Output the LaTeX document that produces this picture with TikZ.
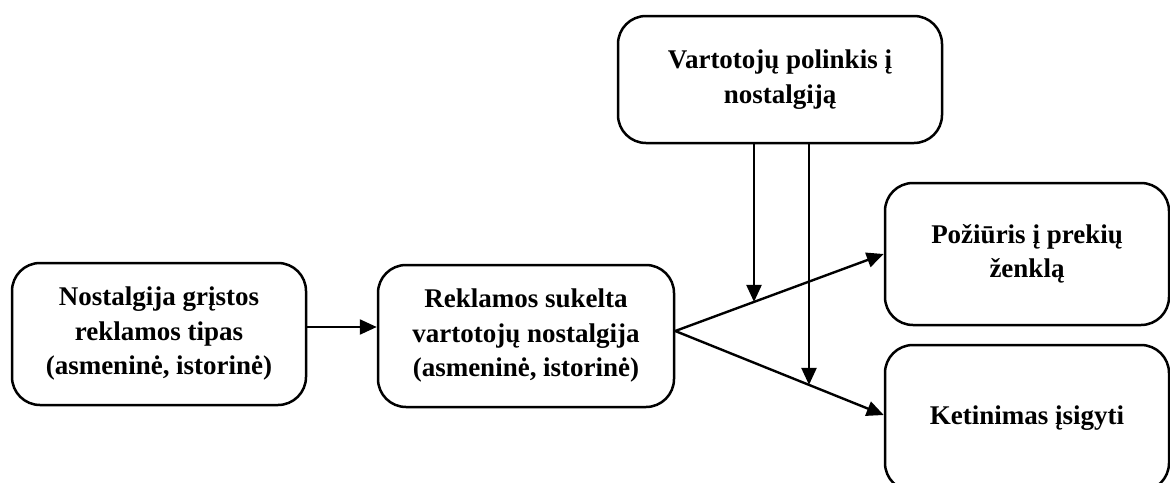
\documentclass[tikz,border=0pt]{standalone}
\usepackage{fontspec}
\setmainfont{Liberation Serif}
\usetikzlibrary{arrows.meta,intersections}
\tikzset{
  box/.style={draw, line width=2.5pt, rounded corners=28pt, inner sep=0pt,
    align=center, font=\fontsize{27}{34.5}\selectfont\bfseries},
  link/.style={line width=2.4pt, -{Triangle[length=17pt,width=15pt]}},
}
\begin{document}
\begin{tikzpicture}[x=1pt,y=-1pt]
  \useasboundingbox (0,0) rectangle (1170,482);
  \clip (0,0) rectangle (1170,482);

  % boxes
  \node[box, minimum width=294pt, minimum height=142pt] (type) at (159,334)
    {Nostalgija grįstos\\reklamos tipas\\(asmeninė, istorinė)};
  \node[box, minimum width=296pt, minimum height=142pt] (evoked) at (526,336)
    {Reklamos sukelta\\vartotojų nostalgija\\(asmeninė, istorinė)};
  \node[box, minimum width=324pt, minimum height=127pt] (prone) at (780,79.5)
    {Vartotojų polinkis į\\nostalgiją};
  \node[box, minimum width=284pt, minimum height=142pt] (attitude) at (1027,254)
    {Požiūris į prekių\\ženklą};
  \node[box, minimum width=284pt, minimum height=146pt] (intent) at (1027,418)
    {Ketinimas įsigyti};

  % connection points
  \coordinate (a1) at (type.east |- 0,327);
  \coordinate (a2) at (evoked.west |- 0,327);
  \coordinate (fork) at (evoked.east |- 0,331);
  \coordinate (t1) at (attitude.west |- 0,254);
  \coordinate (t2) at (intent.west |- 0,415);
  \coordinate (v1) at (754,0);
  \coordinate (v2) at (809,0);

  \draw[link] (a1) -- (a2);
  \draw[link, name path=up] (fork) -- (t1);
  \draw[link, name path=down] (fork) -- (t2);

  \path[name path=vp1] (v1 |- prone.south) -- (v1 |- 0,470);
  \path[name path=vp2] (v2 |- prone.south) -- (v2 |- 0,470);
  \path[name intersections={of=vp1 and up, by=m1}];
  \path[name intersections={of=vp2 and down, by=m2}];
  \draw[link] (v1 |- prone.south) -- (m1);
  \draw[link] (v2 |- prone.south) -- (m2);
\end{tikzpicture}
\end{document}
